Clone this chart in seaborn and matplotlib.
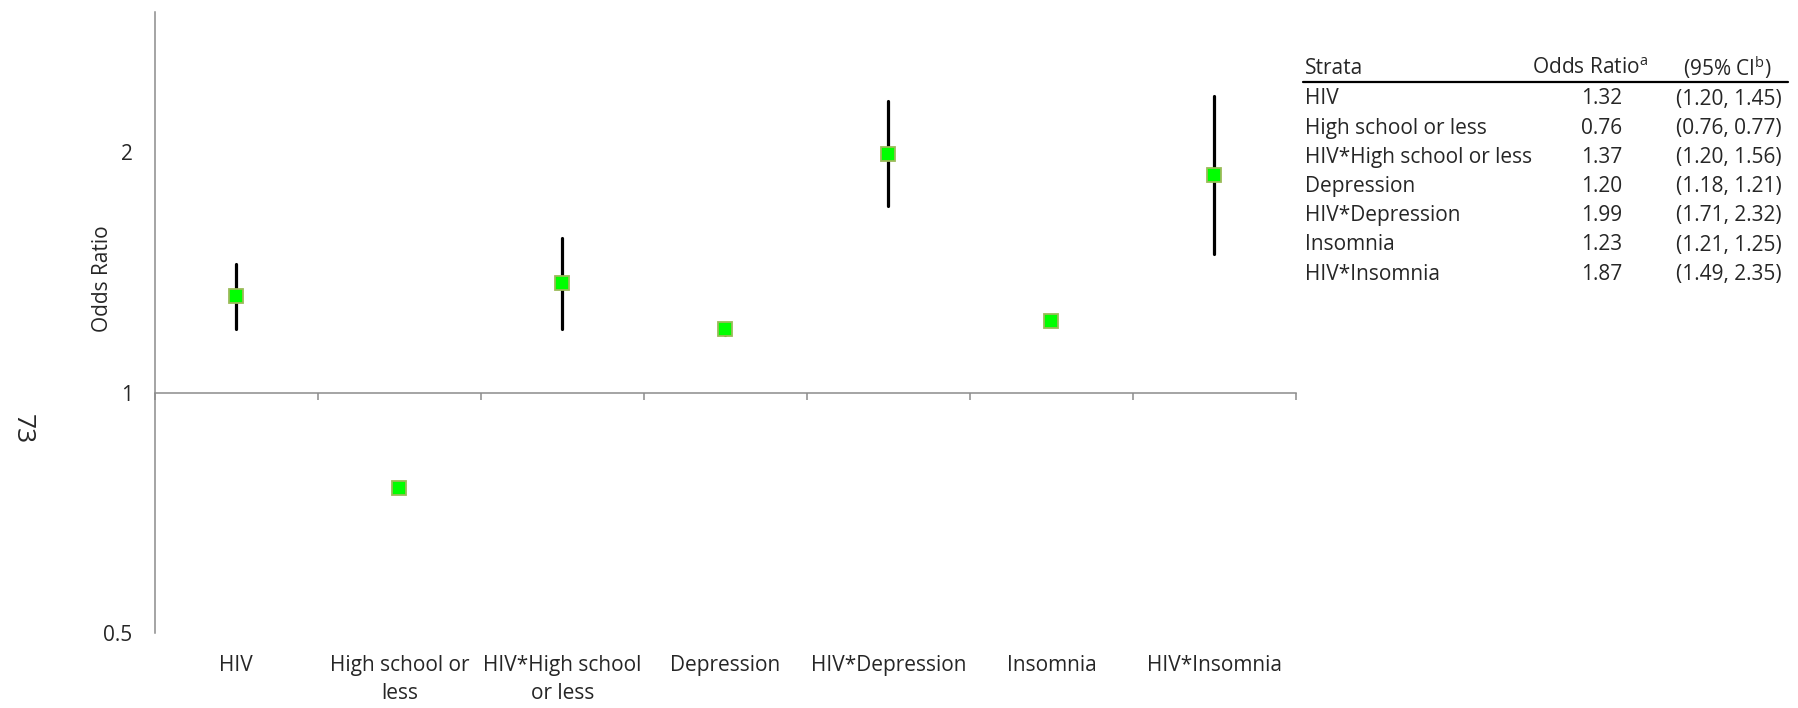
import numpy as np
import pandas as pd
import matplotlib
matplotlib.use("Agg")
import matplotlib.pyplot as plt
from matplotlib.lines import Line2D
import seaborn as sns

# Odds ratios with 95% confidence intervals for each stratum
strata = ["HIV", "High school or less", "HIV*High school or less", "Depression",
          "HIV*Depression", "Insomnia", "HIV*Insomnia"]
tick_labels = ["HIV", "High school or\nless", "HIV*High school\nor less", "Depression",
               "HIV*Depression", "Insomnia", "HIV*Insomnia"]
odds_ratio = [1.32, 0.76, 1.37, 1.20, 1.99, 1.23, 1.87]
ci_low = [1.20, 0.76, 1.20, 1.18, 1.71, 1.21, 1.49]
ci_high = [1.45, 0.77, 1.56, 1.21, 2.32, 1.25, 2.35]
y_ticks = [0.5, 1, 2]
y_tick_labels = ["0.5", "1", "2"]
y_limits = (0.5, 3.0)

sns.set_theme(style="white")
plt.rcParams["font.family"] = ["Open Sans", "DejaVu Sans"]
plt.rcParams["mathtext.default"] = "regular"

FS = 15
W, H = 1798, 708
fig = plt.figure(figsize=(W / 100, H / 100), dpi=100)
ax = fig.add_axes([154.8 / W, 75 / H, (1296 - 154.8) / W, (633 - 11.5) / H])

# Long table: low, estimate, high per stratum -> median gives the OR,
# the 100% percentile interval spans the CI.
long = pd.DataFrame({
    "stratum": np.repeat(strata, 3),
    "value": np.ravel(np.column_stack([ci_low, odds_ratio, ci_high])),
})

ax.set_yscale("log")
sns.pointplot(
    data=long, x="stratum", y="value", order=strata,
    estimator="median", errorbar=("pi", 100), capsize=0,
    color="black", linestyle="none", marker="s",
    markersize=10, markerfacecolor="#00ff00", markeredgecolor="#9bbb59",
    markeredgewidth=1.3, err_kws={"linewidth": 2.3, "zorder": 1},
    zorder=3, ax=ax,
)

ax.set_xlim(-0.5, len(strata) - 0.5)
ax.set_ylim(*y_limits)
ax.set_yticks(y_ticks)
ax.set_yticklabels(y_tick_labels)
ax.yaxis.set_minor_locator(matplotlib.ticker.NullLocator())
ax.set_xticks(range(len(strata)))
ax.set_xticklabels(tick_labels, fontsize=FS, linespacing=1.4, va="top")
ax.tick_params(axis="x", length=0, pad=16)
ax.tick_params(axis="y", length=0, pad=16, labelsize=FS)
ax.set_xlabel("")
ax.set_ylabel("Odds Ratio", fontsize=FS)
ax.yaxis.set_label_coords(-0.037, 0.57)

for side in ["top", "right", "bottom"]:
    ax.spines[side].set_visible(False)
ax.spines["left"].set_color("#8c8c8c")
ax.spines["left"].set_linewidth(1.1)

# Reference line at OR = 1 with category boundary ticks
pos = np.log(1 / y_limits[0]) / np.log(y_limits[1] / y_limits[0])
sec = ax.secondary_xaxis(pos)
sec.set_xticks(np.arange(len(strata) + 1) - 0.5)
sec.set_xticklabels([])
sec.tick_params(axis="x", direction="out", length=5, width=1.1, color="#8c8c8c")
sec.spines["bottom"].set_color("#8c8c8c")
sec.spines["bottom"].set_linewidth(1.1)
sec.spines["top"].set_visible(False)

# Page number
fig.text(22 / W, 1 - 429 / H, "73", rotation=270, fontsize=19,
         ha="center", va="center")

# Summary table
def fy(y):
    return 1 - y / H

hdr_y = 68
fig.text(1305 / W, fy(hdr_y), "Strata", fontsize=FS, ha="left", va="center")
fig.text(1648 / W, fy(hdr_y), "Odds Ratio$^{a}$", fontsize=FS, ha="right", va="center")
fig.text(1772 / W, fy(hdr_y), "(95% CI$^{b}$)", fontsize=FS, ha="right", va="center")
fig.add_artist(Line2D([1303 / W, 1788 / W], [fy(82), fy(82)],
                      color="black", linewidth=1.6))

for i, (name, orv, lo, hi) in enumerate(zip(strata, odds_ratio, ci_low, ci_high)):
    y = 99 + 29.2 * i
    fig.text(1305 / W, fy(y), name, fontsize=FS, ha="left", va="center")
    fig.text(1622 / W, fy(y), f"{orv:.2f}", fontsize=FS, ha="right", va="center")
    fig.text(1782 / W, fy(y), f"({lo:.2f}, {hi:.2f})", fontsize=FS,
             ha="right", va="center")

fig.savefig("out.png", dpi=100, facecolor="white")
